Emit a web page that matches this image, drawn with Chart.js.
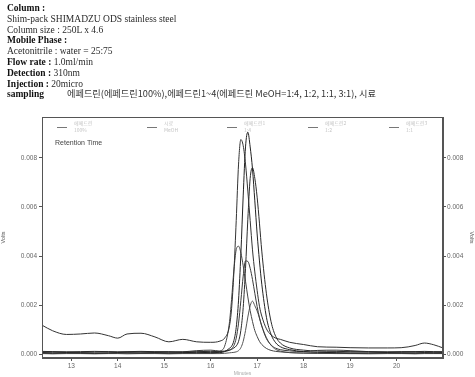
<!DOCTYPE html>
<html>
<head>
<meta charset="utf-8">
<script src="https://cdn.jsdelivr.net/npm/chart.js@4/dist/chart.umd.min.js"></script>
<style>
  html, body { margin: 0; padding: 0; background: #fff; }
  #wrap { position: relative; width: 475px; height: 377px; overflow: hidden; }
  #chart { position: absolute; left: 0; top: 0; }
  #info {
    position: absolute; left: 7px; top: 3px;
    font-family: "Liberation Serif", "DejaVu Serif", serif;
    font-size: 9.5px; line-height: 10.8px; color: #2a2a2a; white-space: nowrap;
  }
  #info b { font-weight: bold; color: #111; }
  .ko { position: absolute; left: 60px; font-family: "Noto Sans CJK KR", sans-serif; font-size: 9.2px; color: #333; margin-top: -1px; }
</style>
</head>
<body>
<div id="wrap">
  <canvas id="chart" width="475" height="377"></canvas>
  <div id="info">
    <div><b>Column :</b></div>
    <div>Shim-pack SHIMADZU ODS stainless steel</div>
    <div>Column size : 250L x 4.6</div>
    <div><b>Mobile Phase :</b></div>
    <div>Acetonitrile : water = 25:75</div>
    <div><b>Flow rate :</b> 1.0ml/min</div>
    <div><b>Detection :</b> 310nm</div>
    <div><b>Injection :</b> 20micro</div>
    <div><b>sampling</b><span class="ko">에페드린(에페드린100%),에페드린1~4(에페드린 MeOH=1:4, 1:2, 1:1, 3:1), 시료</span></div>
  </div>
</div>
<script>
// retention time (min)
const minutes = [12.37, 12.6, 12.9, 13.2, 13.5, 13.8, 14.0, 14.2, 14.5, 14.8, 15.1, 15.4, 15.7, 16.0,
  16.2, 16.3, 16.4, 16.45, 16.5, 16.55, 16.6, 16.65, 16.7, 16.75, 16.8, 16.85, 16.9, 16.95, 17.0, 17.05,
  17.1, 17.2, 17.3, 17.4, 17.5, 17.7, 18.0, 18.3, 18.7, 19.0, 19.4, 19.8, 20.1, 20.4, 20.6, 20.8, 21.0];

// detector signal, in units of 0.1 mV (1 = 0.0001 V)
const ephedrine100 = [0.6, 0.5, 0.6, 0.5, 0.4, 0.5, 0.6, 0.5, 0.5, 0.6, 0.5, 0.6, 0.7, 0.6,
  0.6, 1.0, 2.3, 3.2, 5.5, 10.9, 22, 41, 64.5, 84.5, 90.5, 84.5, 75.5, 62.5, 49, 38,
  28.5, 15, 8, 4.6, 3, 1.8, 1.0, 0.7, 0.6, 0.5, 0.5, 0.6, 0.5, 0.5, 0.6, 0.5, 0.5];
const sample = [11.8, 9.5, 8, 8.2, 8.6, 7.5, 6.5, 8.2, 8.5, 7, 5, 6, 5, 4.8,
  5.3, 6.5, 11, 18.5, 33.5, 54.5, 77.5, 87.5, 85, 77.5, 66.5, 54.5, 42.5, 33.5, 26, 19.5,
  15.5, 10.3, 7.8, 6.5, 6, 4.8, 3.9, 3, 2.8, 2.6, 2.5, 2.5, 2.6, 3.5, 4.5, 3.8, 2.5];
const ephedrine1 = [1.1, 1.0, 0.9, 1.0, 1.1, 1.0, 0.9, 1.0, 1.1, 1.0, 1.0, 0.9, 1.0, 1.1,
  1.0, 1.2, 1.5, 1.9, 2.5, 3.3, 5.2, 9.7, 19, 35, 55, 71.7, 76, 71.7, 64, 53.4,
  42, 24.6, 13.2, 7.2, 4.5, 2.5, 1.6, 1.2, 1.1, 1.0, 1.0, 0.9, 1.0, 1.0, 1.1, 1.0, 1.0];
const ephedrine2 = [0.3, 0.2, 0.3, 0.3, 0.2, 0.3, 0.3, 0.4, 0.3, 0.3, 0.2, 0.3, 0.3, 0.3,
  1.2, 3.2, 12.3, 22.3, 34.3, 42.6, 44, 41.3, 36, 29.7, 23.3, 17.7, 13.3, 9.6, 7.2, 5.2,
  3.9, 2.3, 1.5, 1.1, 0.9, 0.6, 0.4, 0.3, 0.3, 0.2, 0.3, 0.3, 0.3, 0.2, 0.3, 0.3, 0.3];
const ephedrine3 = [0.8, 0.9, 0.8, 0.7, 0.8, 0.9, 0.8, 0.8, 0.9, 0.8, 0.8, 0.9, 1.4, 1.6,
  1.2, 1.1, 1.7, 2.2, 3.5, 6.5, 12.6, 21.8, 31.8, 38, 37.8, 35, 30.4, 24.8, 19.4, 14.8,
  11.4, 6.3, 3.7, 2.4, 1.8, 1.3, 1.0, 1.5, 1.6, 1.4, 1.0, 0.8, 0.8, 0.9, 0.8, 0.8, 0.7];
const ephedrine4 = [0.2, 0.1, 0.2, 0.2, 0.1, 0.2, 0.2, 0.1, 0.2, 0.2, 0.1, 0.2, 0.2, 0.2,
  0.2, 0.3, 0.5, 0.6, 0.7, 0.9, 1.4, 2.6, 5.2, 9.6, 15.1, 19.7, 21.6, 19.7, 17.6, 14.7,
  11.5, 6.7, 3.6, 1.9, 1.2, 0.6, 0.4, 0.3, 0.2, 0.2, 0.1, 0.2, 0.2, 0.1, 0.2, 0.2, 0.2];

const seriesNames = ['에페드린 100%', '시료 MeOH', '에페드린1 1:4', '에페드린2 1:2', '에페드린3 1:1', '에페드린4 3:1'];
const seriesValues = [ephedrine100, sample, ephedrine1, ephedrine2, ephedrine3, ephedrine4];
const lineColors = ['#222', '#333', '#2b2b2b', '#444', '#3a3a3a', '#555'];

const xTicks = [13, 14, 15, 16, 17, 18, 19, 20];
const yTicks = [0, 0.002, 0.004, 0.006, 0.008];

const frame = {
  id: 'frame',
  afterDraw(chart) {
    const { ctx, chartArea: a } = chart;
    ctx.save();
    ctx.strokeStyle = '#555';
    ctx.lineWidth = 1;
    ctx.strokeRect(a.left + 0.5, a.top + 0.5, a.right - a.left - 1, a.bottom - a.top - 1);
    // faint legend row inside the plot
    const cols = [57, 147, 227, 308, 389];
    ctx.font = '5px "Noto Sans CJK KR", sans-serif';
    cols.forEach((x, i) => {
      ctx.strokeStyle = '#777';
      ctx.beginPath();
      ctx.moveTo(x, 127.5);
      ctx.lineTo(x + 10, 127.5);
      ctx.stroke();
      const parts = seriesNames[i].split(' ');
      ctx.fillStyle = '#c4c4c4';
      ctx.fillText(parts[0], x + 17, 125);
      ctx.fillText(parts[1] || '', x + 17, 132);
    });
    ctx.fillStyle = '#444';
    ctx.font = '7px "Liberation Sans", Arial, sans-serif';
    ctx.fillText('Retention Time', 55, 145);
    ctx.restore();
  }
};

const tickFont = { family: '"Liberation Sans", Arial, sans-serif', size: 6.5 };

new Chart(document.getElementById('chart'), {
  type: 'line',
  data: {
    datasets: seriesValues.map((vals, i) => ({
      label: seriesNames[i],
      data: minutes.map((m, j) => ({ x: m, y: vals[j] / 10000 })),
      borderColor: lineColors[i],
      borderWidth: 1,
      pointRadius: 0,
      fill: false,
      cubicInterpolationMode: 'monotone'
    }))
  },
  options: {
    responsive: false,
    animation: false,
    devicePixelRatio: 1,
    layout: { padding: { top: 117, left: 0, right: 0, bottom: 0 } },
    plugins: { legend: { display: false }, tooltip: { enabled: false } },
    scales: {
      x: {
        type: 'linear',
        min: 12.37,
        max: 21.0,
        afterBuildTicks: s => { s.ticks = xTicks.map(v => ({ value: v })); },
        afterFit: s => { s.height = 19; },
        ticks: { font: tickFont, color: '#666', padding: 1, maxRotation: 0 },
        grid: { drawOnChartArea: false, tickLength: 3, color: '#555' },
        border: { color: '#555' },
        title: { display: true, text: 'Minutes', font: { size: 5 }, color: '#aaa', padding: 0 }
      },
      y: {
        position: 'left',
        min: -0.00016,
        max: 0.00967,
        afterBuildTicks: s => { s.ticks = yTicks.map(v => ({ value: v })); },
        afterFit: s => { s.width = 42; },
        ticks: { font: tickFont, color: '#666', padding: 2, callback: v => v.toFixed(3) },
        grid: { drawOnChartArea: false, tickLength: 3, color: '#555' },
        border: { color: '#555' },
        title: { display: true, text: 'Volts', font: { size: 5.5 }, color: '#555', padding: 0 }
      },
      y2: {
        position: 'right',
        min: -0.00016,
        max: 0.00967,
        afterBuildTicks: s => { s.ticks = yTicks.map(v => ({ value: v })); },
        afterFit: s => { s.width = 32; },
        ticks: { font: tickFont, color: '#666', padding: 1, callback: v => v.toFixed(3) },
        grid: { drawOnChartArea: false, tickLength: 3, color: '#555' },
        border: { color: '#555' },
        title: { display: true, text: 'Volts', font: { size: 5.5 }, color: '#555', padding: 0 }
      }
    }
  },
  plugins: [frame]
});
</script>
</body>
</html>
